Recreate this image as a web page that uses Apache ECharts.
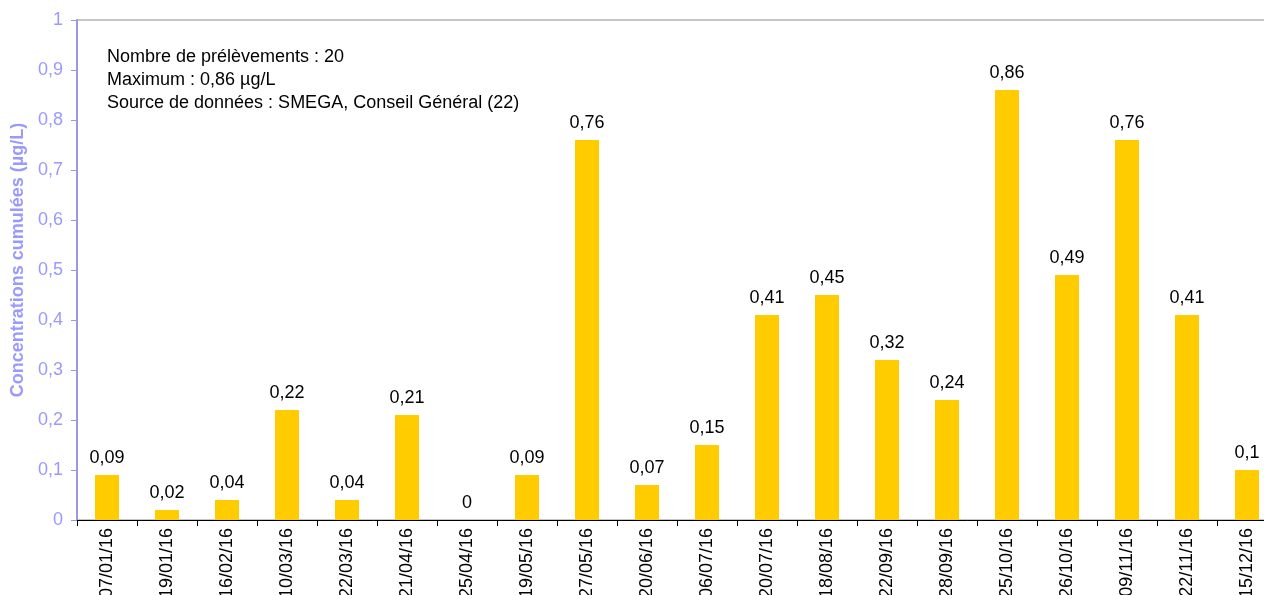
<!DOCTYPE html>
<html><head><meta charset="utf-8">
<script src="https://cdn.jsdelivr.net/npm/echarts@6/dist/echarts.min.js"></script>
<style>html,body{margin:0;padding:0;background:#fff}#c{width:1264px;height:595px}</style>
</head><body><div id="c"></div>
<script>
const categories = ['07/01/16','19/01/16','16/02/16','10/03/16','22/03/16','21/04/16','25/04/16','19/05/16','27/05/16','20/06/16','06/07/16','20/07/16','18/08/16','22/09/16','28/09/16','25/10/16','26/10/16','09/11/16','22/11/16','15/12/16'];
const values = [0.09,0.02,0.04,0.22,0.04,0.21,0,0.09,0.76,0.07,0.15,0.41,0.45,0.32,0.24,0.86,0.49,0.76,0.41,0.1];
const infoLines = ['Nombre de prélèvements : 20','Maximum : 0,86 µg/L','Source de données : SMEGA, Conseil Général (22)'];
const yAxisName = 'Concentrations cumulées (µg/L)';

const FONT = 'Liberation Sans, Arial, sans-serif';
const fmt = v => String(v).replace('.', ',');
const chart = echarts.init(document.getElementById('c'));
chart.setOption({
  animation: false,
  textStyle: {fontFamily: FONT},
  grid: {left: 77, width: 1200, top: 20, bottom: 75, show: true, borderColor: '#8c8c8c', borderWidth: 1, containLabel: false, outerBoundsMode: 'none'},
  graphic: [
    {type: 'text', left: 107, top: 46, style: {text: infoLines.join('\n'), font: '18px ' + FONT, lineHeight: 23, fill: '#000'}},
    {type: 'text', x: 18, y: 260, rotation: Math.PI / 2, style: {text: yAxisName, font: 'bold 18px ' + FONT, fill: '#9999FF', align: 'center', verticalAlign: 'middle'}}
  ],
  xAxis: {
    type: 'category', data: categories,
    axisLine: {lineStyle: {color: '#000', width: 1}},
    axisTick: {show: true, length: 6, lineStyle: {color: '#000'}},
    axisLabel: {rotate: 90, color: '#000', fontSize: 18, margin: 8, hideOverlap: false}
  },
  yAxis: {
    type: 'value', min: 0, max: 1, interval: 0.1,
    axisLine: {show: true, lineStyle: {color: '#9999DD', width: 2}},
    axisTick: {show: true, length: 6, lineStyle: {color: '#9999DD'}},
    axisLabel: {color: '#9999FF', fontSize: 18, margin: 14, formatter: v => fmt(Math.round(v*10)/10)},
    splitLine: {show: false}
  },
  series: [{
    type: 'bar', data: values, barWidth: 24,
    itemStyle: {color: '#FFCC00'},
    label: {show: true, position: 'top', distance: 8, color: '#000', fontSize: 18, formatter: p => fmt(p.value)}
  }]
});
</script></body></html>
